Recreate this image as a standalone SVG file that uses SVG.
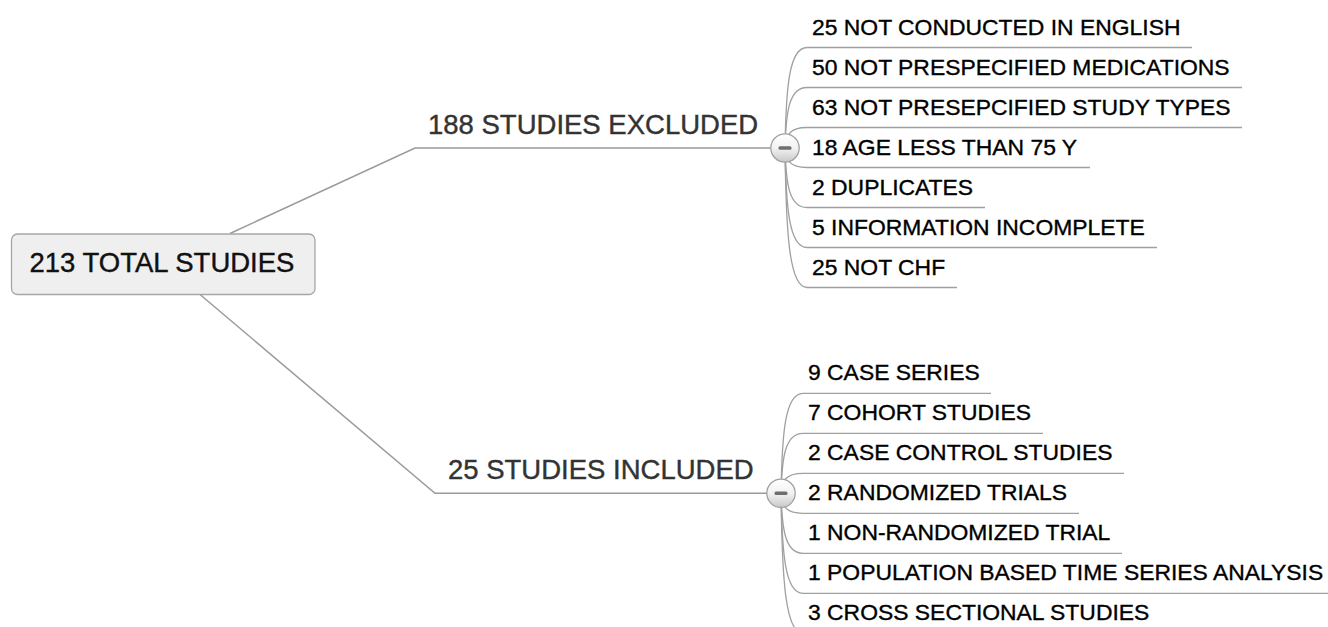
<svg xmlns="http://www.w3.org/2000/svg" width="1328" height="627" viewBox="0 0 1328 627">
<defs>
<linearGradient id="btnGrad" x1="0" y1="0" x2="0" y2="1">
<stop offset="0" stop-color="#ffffff"/>
<stop offset="0.5" stop-color="#f2f2f2"/>
<stop offset="1" stop-color="#c8c8c8"/>
</linearGradient>
<style>
.main{fill:none;stroke:#9a9a9a;stroke-width:1.5}
.sub{fill:none;stroke:#a0a0a0;stroke-width:1.3}
.root{fill:#efefef;stroke:#a6a6a6;stroke-width:1.3}
.rt{font-family:"Liberation Sans",Arial,sans-serif;font-size:27.5px;fill:#111;stroke:#111;stroke-width:0.4}
.tt{font-family:"Liberation Sans",Arial,sans-serif;font-size:27.5px;fill:#333;stroke:#333;stroke-width:0.4}
.ct{font-family:"Liberation Sans",Arial,sans-serif;font-size:22.9px;fill:#000;stroke:#000;stroke-width:0.35}
.btn{fill:url(#btnGrad);stroke:#a0a0a0;stroke-width:1.3}
.minus{fill:#6e6e6e}
</style>
</defs>
<rect width="1328" height="627" fill="#ffffff"/>
<g id="connectors">
<path class="main" d="M230,233.5 L415,148 L772,148"/>
<path class="main" d="M200,294.5 L435,493.3 L768,493.3"/>
<path class="sub" d="M785,148 C786,87.7 789,47.5 807,47.5 L1192,47.5"/>
<path class="sub" d="M785,148 C786,111.7 789,87.5 807,87.5 L1242,87.5"/>
<path class="sub" d="M785,148 C786,135.7 789,127.5 807,127.5 L1242,127.5"/>
<path class="sub" d="M785,148 C786,159.7 789,167.5 807,167.5 L1090,167.5"/>
<path class="sub" d="M785,148 C786,183.7 789,207.5 807,207.5 L985,207.5"/>
<path class="sub" d="M785,148 C786,207.7 789,247.5 807,247.5 L1157,247.5"/>
<path class="sub" d="M785,148 C786,231.7 789,287.5 807,287.5 L957,287.5"/>
<path class="sub" d="M781,493.3 C782,433.3 785,393.3 803,393.3 L991,393.3"/>
<path class="sub" d="M781,493.3 C782,457.3 785,433.3 803,433.3 L1043,433.3"/>
<path class="sub" d="M781,493.3 C782,481.3 785,473.3 803,473.3 L1124,473.3"/>
<path class="sub" d="M781,493.3 C782,505.3 785,513.3 803,513.3 L1079,513.3"/>
<path class="sub" d="M781,493.3 C782,529.3 785,553.3 803,553.3 L1122,553.3"/>
<path class="sub" d="M781,493.3 C782,553.3 785,593.3 803,593.3 L1340,593.3"/>
<path class="sub" d="M781,493.3 C782,577.3 785,633.3 803,633.3 L1340,633.3"/>
</g>
<g id="root">
<rect class="root" x="11.5" y="234" width="303.5" height="60.5" rx="6"/>
<text class="rt" x="162" y="272" text-anchor="middle">213 TOTAL STUDIES</text>
</g>
<g id="excluded">
<text class="tt" x="428" y="134">188 STUDIES EXCLUDED</text>
<circle class="btn" cx="785" cy="148" r="14.2"/>
<rect class="minus" x="778.5" y="146.2" width="13" height="3.6" rx="1.5"/>
</g>
<g id="included">
<text class="tt" x="448" y="479">25 STUDIES INCLUDED</text>
<circle class="btn" cx="781" cy="493.3" r="14.2"/>
<rect class="minus" x="774.5" y="491.5" width="13" height="3.6" rx="1.5"/>
</g>
<g id="ex1"><text class="ct" x="812" y="34.5">25 NOT CONDUCTED IN ENGLISH</text></g>
<g id="ex2"><text class="ct" x="812" y="74.5">50 NOT PRESPECIFIED MEDICATIONS</text></g>
<g id="ex3"><text class="ct" x="812" y="114.5">63 NOT PRESEPCIFIED STUDY TYPES</text></g>
<g id="ex4"><text class="ct" x="812" y="154.5">18 AGE LESS THAN 75 Y</text></g>
<g id="ex5"><text class="ct" x="812" y="194.5">2 DUPLICATES</text></g>
<g id="ex6"><text class="ct" x="812" y="234.5">5 INFORMATION INCOMPLETE</text></g>
<g id="ex7"><text class="ct" x="812" y="274.5">25 NOT CHF</text></g>
<g id="in1"><text class="ct" x="808" y="379.8">9 CASE SERIES</text></g>
<g id="in2"><text class="ct" x="808" y="419.8">7 COHORT STUDIES</text></g>
<g id="in3"><text class="ct" x="808" y="459.8">2 CASE CONTROL STUDIES</text></g>
<g id="in4"><text class="ct" x="808" y="499.8">2 RANDOMIZED TRIALS</text></g>
<g id="in5"><text class="ct" x="808" y="539.8">1 NON-RANDOMIZED TRIAL</text></g>
<g id="in6"><text class="ct" x="808" y="579.8">1 POPULATION BASED TIME SERIES ANALYSIS</text></g>
<g id="in7"><text class="ct" x="808" y="619.8">3 CROSS SECTIONAL STUDIES</text></g>
</svg>
